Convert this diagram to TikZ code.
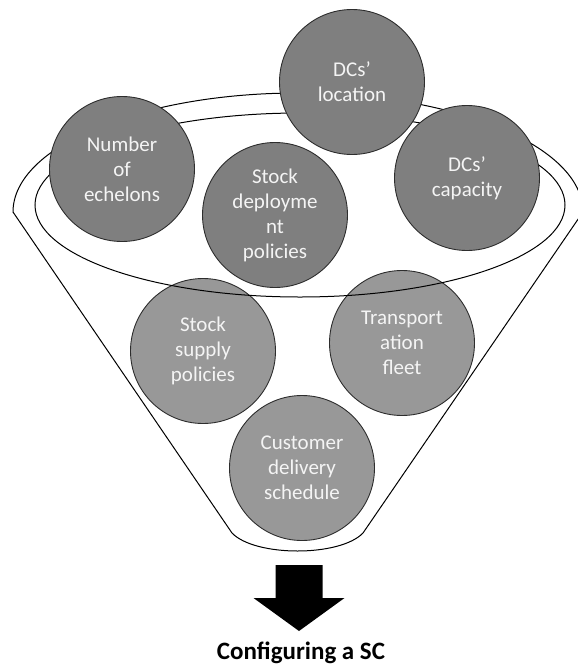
\documentclass[tikz,border=0pt]{standalone}
\usepackage{fontspec}
\setmainfont{Carlito}
\usepackage{xcolor}
\usepackage{tikz}
\usetikzlibrary{calc}
\usetikzlibrary{shapes}
\definecolor{darkdisk}{RGB}{127,127,127}
\definecolor{lightdisk}{RGB}{152,152,152}
\definecolor{diskline}{RGB}{45,45,45}
\definecolor{disktext}{RGB}{244,244,244}
\tikzstyle{disk} = [draw=diskline, line width=0.9pt, circle, minimum size=145pt, inner sep=0pt, align=center, text=disktext, font=\fontsize{21}{25}\selectfont]
\tikzstyle{upper} = [disk, fill=darkdisk]
\tikzstyle{lower} = [disk, fill=lightdisk]
\tikzstyle{rim} = [line width=1pt, black]

\begin{document}
\begin{tikzpicture}[x=1pt, y=-1pt]

	\useasboundingbox (0, 0) rectangle (578, 670) ;

	\node[lower] (supply) at (203, 351) {Stock\\supply\\policies} ;
	\node[lower] (fleet) at (402, 343) {Transport\\ation\\fleet} ;
	\node[lower] (delivery) at (302, 468) {Customer\\delivery\\schedule} ;

	\draw[rim] (13, 212) arc (180:360:285 and 119) -- (363, 533)
		.. controls (340, 557) and (255, 557) .. (232, 533) -- cycle ;
	\draw[rim] (300, 205) ellipse [x radius=265, y radius=92] ;

	\node[upper] (echelons) at (122, 169) {Number\\of\\echelons} ;
	\node[upper] (location) at (352, 82) {DCs’\\location} ;
	\node[upper] (capacity) at (467, 178) {DCs’\\capacity} ;
	\node[upper] (deployment) at (275, 215) {Stock\\deployme\\nt\\policies} ;

	\fill (275.5, 565) -- (322.5, 565) -- (322.5, 598) -- (344.5, 598)
		-- (299, 631) -- (253.5, 598) -- (275.5, 598) -- cycle ;
	\node[font=\fontsize{25}{29}\selectfont\bfseries] (result) at (301, 653) {Configuring a SC} ;
\end{tikzpicture}
\end{document}
